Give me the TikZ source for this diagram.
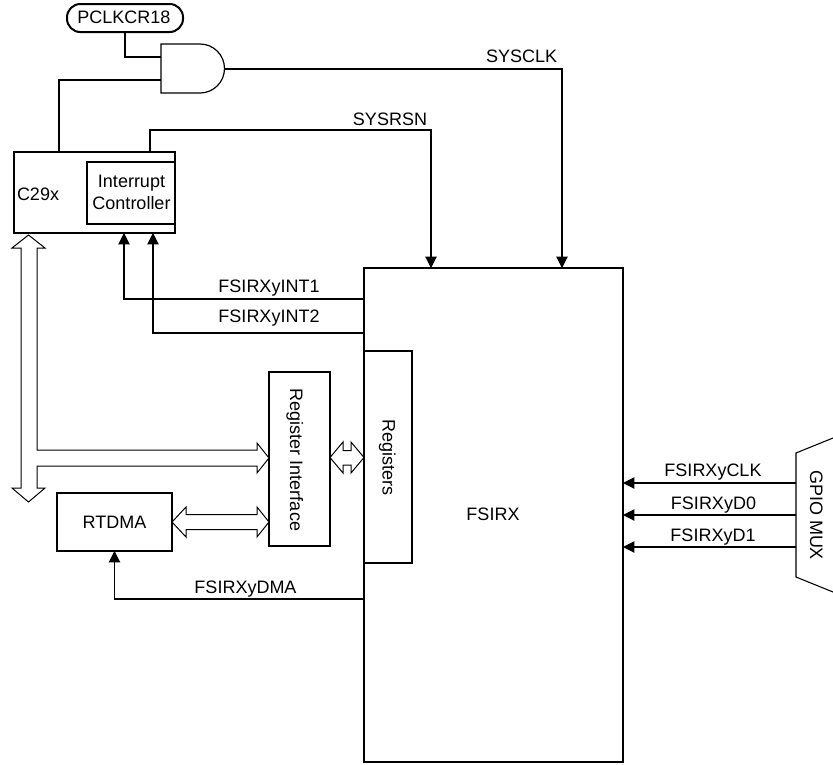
\documentclass[tikz,border=0pt]{standalone}
\usepackage{fontspec}
\setmainfont{Liberation Sans}
\usetikzlibrary{arrows.meta,calc}
\begin{document}
\begin{tikzpicture}[x=0.75pt,y=-0.75pt,
  every node/.style={font=\fontsize{13.5}{16.7}\selectfont, inner sep=0pt, outer sep=0pt},
  thickbox/.style={draw, line width=2pt, fill=white},
  wire/.style={line width=0.8pt},
  arr/.style={wire, -{Triangle[length=8.5pt,width=8.5pt]}},
  hollow/.style={draw, fill=white, line width=0.75pt, line join=miter},
  gate/.style={draw, line width=0.9pt},
  lbl/.style={anchor=base}
]
\useasboundingbox (0,0) rectangle (833,765);

% hollow bus arrows
\path[hollow] (28.5,235) -- (45,248) -- (37,248) -- (37,450) -- (257,450) -- (257,443)
  -- (269,458) -- (257,473) -- (257,466) -- (37,466) -- (37,488) -- (45,488)
  -- (28.5,502) -- (12,488) -- (21,488) -- (21,248) -- (12,248) -- cycle;
\path[hollow] (330,457.5) -- (343,442) -- (343,450.5) -- (351,450.5) -- (351,442)
  -- (364,457.5) -- (351,473) -- (351,465) -- (343,465) -- (343,473) -- cycle;
\path[hollow] (172,522) -- (186,507) -- (186,514.5) -- (257,514.5) -- (257,507)
  -- (269,522) -- (257,537) -- (257,529.5) -- (186,529.5) -- (186,537) -- cycle;

% boxes
\node[draw, line width=1.5pt, rounded corners=10pt, minimum width=87pt, minimum height=21pt] (pclk) at (125,18) {};
\node[lbl] (pclklbl) at (124,23.3) {PCLKCR18};

\node[thickbox, minimum width=120.75pt, minimum height=60.75pt] (c29x) at (94.5,192.5) {};
\node[thickbox, minimum width=66pt, minimum height=46.5pt, align=center] (intc) at (131,193) {};
\node[align=center] (intclbl) at (131.5,192.4) {Interrupt\\Controller};
\node[anchor=base west] (c29xlbl) at (17,200) {C29x};

\node[thickbox, minimum width=194.25pt, minimum height=370.5pt] (fsirx) at (493.5,515) {};
\node[lbl] (fsirxlbl) at (493,520) {FSIRX};
\node[thickbox, minimum width=36pt, minimum height=159pt] (regs) at (388,457) {};
\node[rotate=-90, anchor=base] (regslbl) at (382.5,457.5) {Registers};
\node[thickbox, minimum width=45.75pt, minimum height=130.5pt] (regif) at (299.5,459) {};
\node[rotate=-90, anchor=base] (regiflbl) at (290,460) {Register Interface};
\node[thickbox, minimum width=86.25pt, minimum height=43.5pt] (rtdma) at (114.5,522) {RTDMA};

% AND gate
\draw[gate] (161,44) -- (200,44) arc[start angle=-90, end angle=90, radius=24.5] -- (161,93) -- cycle;
\coordinate (andin1) at (161,57);
\coordinate (andin2) at (161,80);
\coordinate (andout) at (224.5,69);

% GPIO MUX
\draw[wire] (833,438) -- (796,453) -- (796,577) -- (833,592);
\coordinate (g1) at (796,483);
\coordinate (g2) at (796,515);
\coordinate (g3) at (796,547);
\node[rotate=-90, anchor=base] (gpiolbl) at (810,515) {GPIO MUX};

% connectors
\draw[wire] (pclk.south) |- (andin1);
\draw[wire] ($(c29x.north west)+(45,0)$) |- (andin2);
\draw[arr] (andout) -| ($(fsirx.north west)+(198,0)$);
\draw[arr] ($(c29x.north west)+(136,0)$) -- ++(0,-22) -| ($(fsirx.north west)+(67,0)$);
\draw[arr] ($(fsirx.north west)+(0,31)$) -| ($(c29x.south west)+(110,0)$);
\draw[arr] ($(fsirx.north west)+(0,65)$) -| ($(c29x.south west)+(139,0)$);
\draw[arr] ($(fsirx.north west)+(0,331)$) -| (rtdma.south);
\draw[arr] (g1) -- (fsirx.east |- g1);
\draw[arr] (g2) -- (fsirx.east |- g2);
\draw[arr] (g3) -- (fsirx.east |- g3);

% labels
\node[lbl] (sysclk) at (521.7,62) {SYSCLK};
\node[lbl] (sysrsn) at (390,125.7) {SYSRSN};
\node[lbl] (int1) at (269,292.7) {FSIRXyINT1};
\node[lbl] (int2) at (269,322.7) {FSIRXyINT2};
\node[lbl] (dma) at (245.5,593.3) {FSIRXyDMA};
\node[lbl] (clk) at (713,476) {FSIRXyCLK};
\node[lbl] (d0) at (713.5,509.3) {FSIRXyD0};
\node[lbl] (d1) at (713,541.7) {FSIRXyD1};
\end{tikzpicture}
\end{document}
